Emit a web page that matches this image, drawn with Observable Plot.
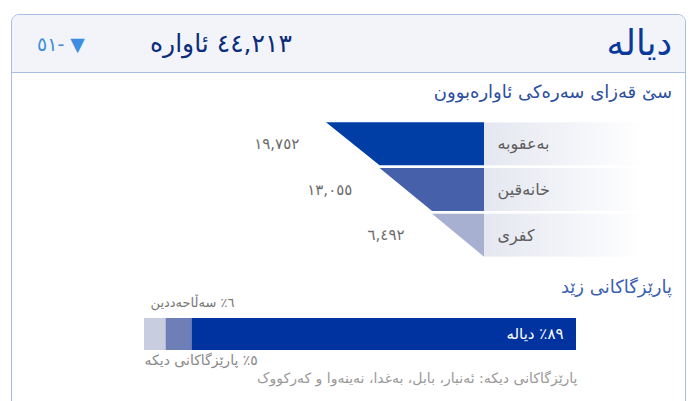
<!DOCTYPE html>
<html><head><meta charset="utf-8">
<script src="https://cdn.jsdelivr.net/npm/d3@7"></script>
<script src="https://cdn.jsdelivr.net/npm/@observablehq/plot@0.6"></script>
<style>
body{margin:0;background:#fff;font-family:"DejaVu Sans",sans-serif;}
#wrap{position:relative;width:691px;height:401px;overflow:hidden;}
#card{position:absolute;left:11px;top:14px;width:675px;height:430px;border:1px solid #a9bce6;border-radius:8px;box-sizing:border-box;overflow:hidden;}
#head{position:absolute;left:0;top:0;right:0;height:57px;background:#f3f4fa;border-bottom:1px solid #a9bce6;}
.t{position:absolute;white-space:nowrap;line-height:1;}
#title{right:19px;top:26px;font-size:35px;color:#0a3a9a;direction:rtl;}
#total{left:150px;top:31px;font-size:25px;color:#0b2d7a;direction:rtl;}
#chg{left:37px;top:35px;font-size:19px;color:#3d8ee0;direction:rtl;}
#sub{right:19px;top:83px;font-size:18px;color:#2d4f9e;direction:rtl;}
#sec{right:19px;top:278px;font-size:18px;color:#3a5fb0;direction:rtl;}
#funnel{position:absolute;left:0;top:110px;}
#bar{position:absolute;left:0;top:295px;}
</style></head>
<body><div id="wrap">
<div id="card"><div id="head"></div></div>
<div id="funnel"></div>
<div id="bar"></div>
</div>
<script>
const cardTitle = "دیالە";
const totalText = "٤٤,٢١٣ ئاوارە";
const changeText = "▼ -٥١";
const subtitle = "سێ قەزای سەرەکی ئاوارەبوون";
const sectionTitle = "پارێزگاکانی زێد";
const districts = ["بەعقوبە", "خانەقین", "کفری"];
const districtValues = [19752, 13055, 6492];
const districtLabels = ["١٩,٧٥٢", "١٣,٠٥٥", "٦,٤٩٢"];
const funnelColors = ["#003da5", "#4660aa", "#a8b0d2"];
const shareNames = ["پارێزگاکانی دیکە", "سەڵاحەددین", "دیالە"];
const shareValues = [5, 6, 89];
const shareLabels = ["٥٪ پارێزگاکانی دیکە", "٦٪ سەڵاحەددین", "٨٩٪ دیالە"];
const shareColors = ["#c8cde0", "#6e7fb8", "#0033a0"];
const footnote = "پارێزگاکانی دیکە: ئەنبار، بابل، بەغدا، نەینەوا و کەرکووک";

const wrap = document.getElementById("wrap");
function addText(id, txt){const d=document.createElement("div");d.id=id;d.className="t";d.textContent=txt;wrap.appendChild(d);}
addText("title", cardTitle);
addText("total", totalText);
addText("chg", changeText);
addText("sub", subtitle);
addText("sec", sectionTitle);

// funnel
const g = 0.03;
const rows = districts.map((name, i) => ({name, i, v: districtValues[i], next: i + 1 < districtValues.length ? districtValues[i + 1] : 0, label: districtLabels[i]}));
const pts = rows.flatMap(r => [{name: r.name, y: r.i + g, v: r.v}, {name: r.name, y: r.i + 1 - g, v: r.next}]);
const defs = () => {
  const s = d3.create("svg:defs");
  const lg = s.append("linearGradient").attr("id", "lg").attr("x1", 0).attr("x2", 1);
  lg.append("stop").attr("offset", "0%").attr("stop-color", "#e4e7f0");
  lg.append("stop").attr("offset", "100%").attr("stop-color", "#ffffff");
  return s.node();
};
const funnel = Plot.plot({
  width: 691, height: 160, margin: 0,
  x: {domain: [0, d3.max(districtValues)], range: [484, 326], axis: null},
  y: {domain: [0, districts.length], range: [11, 148], axis: null},
  color: {domain: districts, range: funnelColors},
  style: {fontFamily: "DejaVu Sans, sans-serif", background: "transparent"},
  marks: [
    defs,
    Plot.rect(rows, {x1: 0, x2: 0, insetRight: -160, y1: d => d.i + g, y2: d => d.i + 1 - g, fill: "url(#lg)"}),
    Plot.areaX(pts, {y: "y", x1: "v", x2: 0, z: "name", fill: "name", curve: "linear"}),
    Plot.text(rows, {x: 0, y: d => d.i + 0.5, text: "name", textAnchor: "start", dx: 13, fontSize: 16, fill: "#5e5e5e"}),
    Plot.text(rows, {x: d => (d.v + d.next) / 2, y: d => d.i + 0.5, text: "label", textAnchor: "end", dx: -54, fontSize: 15, fill: "#6a6a6a"})
  ]
});
document.getElementById("funnel").appendChild(funnel);

// share bar
const shares = shareNames.map((name, i) => ({name, v: shareValues[i], label: shareLabels[i]}));
const bar = Plot.plot({
  width: 691, height: 90, marginTop: 23, marginBottom: 35, marginLeft: 144, marginRight: 115,
  x: {domain: [0, d3.sum(shareValues)], axis: null},
  color: {domain: shareNames, range: shareColors},
  style: {fontFamily: "DejaVu Sans, sans-serif", background: "transparent", overflow: "visible"},
  marks: [
    Plot.barX(shares, Plot.stackX({x: "v", fill: "name", order: null})),
    Plot.text([shares[2]], {text: "label", frameAnchor: "right", dx: -13, fill: "#fff", fontSize: 15, textAnchor: "end"}),
    Plot.text([shares[1]], {text: "label", frameAnchor: "top-left", dx: 6, dy: -16, fill: "#777", fontSize: 13, textAnchor: "start", lineAnchor: "middle"}),
    Plot.text([shares[0]], {text: "label", frameAnchor: "bottom-left", dx: 0, dy: 10, fill: "#888", fontSize: 14, textAnchor: "start", lineAnchor: "middle"}),
    Plot.text([footnote], {text: d => d, frameAnchor: "bottom-right", dx: 1, dy: 28, fill: "#999", fontSize: 14, textAnchor: "end", lineAnchor: "middle"})
  ]
});
document.getElementById("bar").appendChild(bar);
</script>
</body></html>
